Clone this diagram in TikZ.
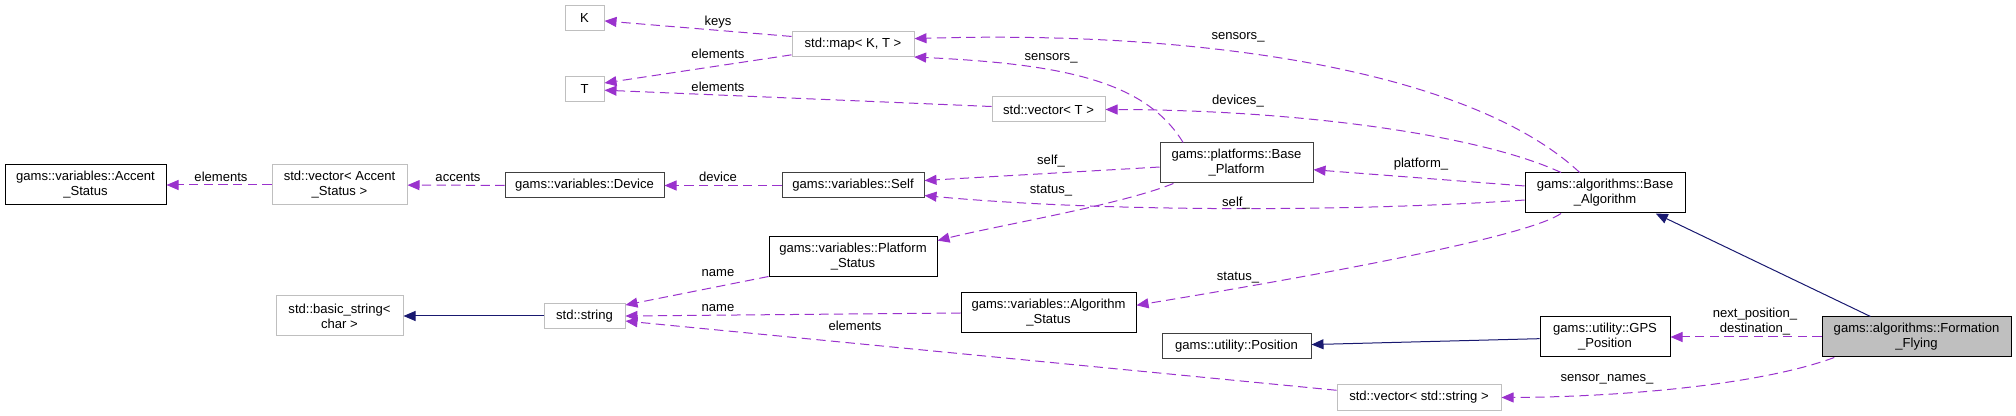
\documentclass[tikz,border=0pt]{standalone}
\usepackage{fontspec}
\setmainfont{Liberation Sans}
\usetikzlibrary{arrows.meta}
\definecolor{member}{HTML}{9A32CD}
\definecolor{inherit}{HTML}{191970}
\definecolor{extern}{HTML}{BFBFBF}

\begin{document}
\begin{tikzpicture}[x=0.75pt, y=-0.75pt,
    every node/.style={font=\fontsize{9.8}{11.25}\selectfont},
    cls/.style={rectangle, inner sep=0pt, align=center, line width=0.75pt},
    docbox/.style={cls, draw=black},
    plainbox/.style={cls, draw=black!75},
    extbox/.style={cls, draw=extern},
    focusbox/.style={cls, draw=black, fill=extern},
    oneline/.style={minimum height=18.75pt},
    twoline/.style={minimum height=30pt},
    uses/.style={draw=member, line width=0.75pt, dash pattern=on 7pt off 4pt,
        -{Triangle[length=9pt, width=7.5pt]}},
    isa/.style={draw=inherit, line width=0.75pt,
        -{Triangle[length=9pt, width=7.5pt]}},
    lbl/.style={inner sep=0pt, text height=7pt, text depth=0pt}]
    \useasboundingbox (0,0) rectangle (2016,416);

    % Draw nodes
    \node[docbox, twoline, minimum width=120.75pt] (accst) at (85.5,185) {gams::variables::Accent\\\_Status};
    \node[extbox, twoline, minimum width=101.25pt] (vecacc) at (339.5,185) {std::vector< Accent\\\_Status >};
    \node[plainbox, oneline, minimum width=119.25pt] (device) at (584.5,185.5) {gams::variables::Device};
    \node[plainbox, oneline, minimum width=106.5pt] (self) at (853,185.5) {gams::variables::Self};
    \node[extbox, oneline, minimum width=29.25pt] (K) at (584.5,18.5) {K};
    \node[extbox, oneline, minimum width=29.25pt] (T) at (584.5,89.5) {T};
    \node[extbox, oneline, minimum width=91.5pt] (map) at (853,44) {std::map< K, T >};
    \node[extbox, oneline, minimum width=84.75pt] (vecT) at (1048.5,109.5) {std::vector< T >};
    \node[plainbox, twoline, minimum width=114.75pt] (platform) at (1236.5,163) {gams::platforms::Base\\\_Platform};
    \node[docbox, twoline, minimum width=120pt] (algo) at (1605,193) {gams::algorithms::Base\\\_Algorithm};
    \node[extbox, twoline, minimum width=95.25pt] (basicstr) at (339.5,316) {std::basic\_string<\\char >};
    \node[extbox, oneline, minimum width=60.75pt] (string) at (584.5,316) {std::string};
    \node[docbox, twoline, minimum width=126pt] (platst) at (853,257) {gams::variables::Platform\\\_Status};
    \node[docbox, twoline, minimum width=131.25pt] (algost) at (1048.5,313) {gams::variables::Algorithm\\\_Status};
    \node[plainbox, oneline, minimum width=111.75pt] (position) at (1236.5,346.5) {gams::utility::Position};
    \node[extbox, oneline, minimum width=123pt] (vecstr) at (1419,397.5) {std::vector< std::string >};
    \node[docbox, twoline, minimum width=97.5pt] (gps) at (1605,337) {gams::utility::GPS\\\_Position};
    \node[focusbox, twoline, minimum width=141.75pt] (ff) at (1916.5,337) {gams::algorithms::Formation\\\_Flying};

    % Draw connections
    \draw[uses] (vecacc) -- (accst);
    \draw[uses] (device) -- (vecacc);
    \draw[uses] (self) -- (device);
    \draw[uses] (map.173) -- (K.353);
    \draw[uses] (map.190) -- (T.18);
    \draw[uses] (vecT.177) -- (T.358);
    \draw[uses] (algo.141) .. controls (1470,70) and (1200,30) .. (map.5);
    \draw[uses] (platform.159) .. controls (1145,80) and (1060,64) .. (map.348);
    \draw[uses] (algo.155) .. controls (1480,135) and (1300,110) .. (vecT.east);
    \draw[uses] (platform.183) -- (self.4);
    \draw[uses] (algo.185) .. controls (1350,212) and (1100,212) .. (self.352);
    \draw[uses] (platform.198) .. controls (1120,205) and (1000,225) .. (platst.11);
    \draw[uses] (algo.175) -- (platform.355);
    \draw[uses] (algo.205) .. controls (1530,235) and (1350,270) .. (algost.5);
    \draw[uses] (ff) -- (gps);
    \draw[uses] (ff.194) .. controls (1760,385) and (1620,397) .. (vecstr.east);
    \draw[uses] (vecstr.175) -- (string.353);
    \draw[uses] (algost.west) -- (string.east);
    \draw[uses] (platst.193) -- (string.15);
    \draw[isa] (string) -- (basicstr);
    \draw[isa] (gps) -- (position);
    \draw[isa] (ff.156) -- (algo.338);

    % Labels
    \node[lbl] (l-accelem) at (221,177) {elements};
    \node[lbl] (l-accents) at (458,177) {accents};
    \node[lbl] (l-device) at (718,177) {device};
    \node[lbl] (l-keys) at (718,21) {keys};
    \node[lbl] (l-mapelem) at (718,54) {elements};
    \node[lbl] (l-vecelem) at (718,87) {elements};
    \node[lbl] (l-algsens) at (1238,35) {sensors\_};
    \node[lbl] (l-platsens) at (1051,56) {sensors\_};
    \node[lbl] (l-devices) at (1238,100) {devices\_};
    \node[lbl] (l-platself) at (1051,160) {self\_};
    \node[lbl] (l-platstat) at (1051,189) {status\_};
    \node[lbl] (l-platform) at (1421,163) {platform\_};
    \node[lbl] (l-algself) at (1236,202) {self\_};
    \node[lbl] (l-psname) at (718,272) {name};
    \node[lbl] (l-asname) at (718,307) {name};
    \node[lbl] (l-strelem) at (855,326) {elements};
    \node[lbl] (l-algstat) at (1238,276) {status\_};
    \node[inner sep=0pt, align=center] (l-gps) at (1755,322) {next\_position\_\\destination\_};
    \node[lbl] (l-names) at (1607,377) {sensor\_names\_};
\end{tikzpicture}
\end{document}
